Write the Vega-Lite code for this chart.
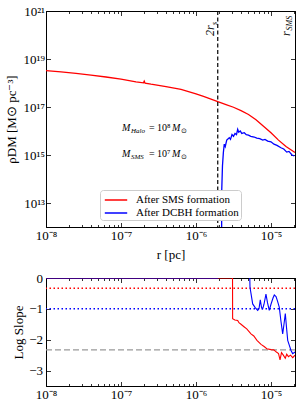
{
  "$schema": "https://vega.github.io/schema/vega-lite/v6.json",
  "padding": {"left": 4, "top": 4, "right": 5, "bottom": 5},
  "spacing": 51,
  "bounds": "flush",
  "config": {
    "font": "Liberation Serif",
    "view": {"stroke": "black", "strokeWidth": 1},
    "axis": {"domainColor": "black", "tickColor": "black", "labelColor": "black", "titleColor": "black", "labelFont": "Liberation Serif", "titleFont": "Liberation Serif", "labelFontSize": 13, "titleFontSize": 13, "titleFontWeight": "normal", "grid": false, "tickWidth": 0.8, "domainWidth": 1}
  },
  "datasets": {
    "top": [
      {"series": "After SMS formation", "r": 1e-8, "rho": 3.31e18},
      {"series": "After SMS formation", "r": 1.585e-8, "rho": 2.88e18},
      {"series": "After SMS formation", "r": 2.512e-8, "rho": 2.51e18},
      {"series": "After SMS formation", "r": 3.981e-8, "rho": 2.14e18},
      {"series": "After SMS formation", "r": 6.31e-8, "rho": 1.78e18},
      {"series": "After SMS formation", "r": 1e-7, "rho": 1.45e18},
      {"series": "After SMS formation", "r": 1.585e-7, "rho": 1.12e18},
      {"series": "After SMS formation", "r": 1.995e-7, "rho": 1.02e18},
      {"series": "After SMS formation", "r": 2.04e-7, "rho": 1.2e18},
      {"series": "After SMS formation", "r": 2.09e-7, "rho": 0.99e18},
      {"series": "After SMS formation", "r": 2.512e-7, "rho": 8.91e17},
      {"series": "After SMS formation", "r": 3.981e-7, "rho": 7.08e17},
      {"series": "After SMS formation", "r": 6.31e-7, "rho": 5.37e17},
      {"series": "After SMS formation", "r": 1e-6, "rho": 3.55e17},
      {"series": "After SMS formation", "r": 1.259e-6, "rho": 2.75e17},
      {"series": "After SMS formation", "r": 1.585e-6, "rho": 2.14e17},
      {"series": "After SMS formation", "r": 1.995e-6, "rho": 1.62e17},
      {"series": "After SMS formation", "r": 2.512e-6, "rho": 1.26e17},
      {"series": "After SMS formation", "r": 3.162e-6, "rho": 9.77e16},
      {"series": "After SMS formation", "r": 3.981e-6, "rho": 7.08e16},
      {"series": "After SMS formation", "r": 5.012e-6, "rho": 4.9e16},
      {"series": "After SMS formation", "r": 6.31e-6, "rho": 2.95e16},
      {"series": "After SMS formation", "r": 7.943e-6, "rho": 1.58e16},
      {"series": "After SMS formation", "r": 1e-5, "rho": 8.51e15},
      {"series": "After SMS formation", "r": 1.259e-5, "rho": 4.17e15},
      {"series": "After SMS formation", "r": 1.585e-5, "rho": 2.24e15},
      {"series": "After SMS formation", "r": 1.995e-5, "rho": 1.41e15},
      {"series": "After SMS formation", "r": 2.089e-5, "rho": 1.26e15},
      {"series": "After DCBH formation", "r": 2.195e-6, "rho": 1e11},
      {"series": "After DCBH formation", "r": 2.203e-6, "rho": 3.16e13},
      {"series": "After DCBH formation", "r": 2.254e-6, "rho": 3.47e14},
      {"series": "After DCBH formation", "r": 2.317e-6, "rho": 1.26e15},
      {"series": "After DCBH formation", "r": 2.382e-6, "rho": 2.82e15},
      {"series": "After DCBH formation", "r": 2.455e-6, "rho": 2.24e15},
      {"series": "After DCBH formation", "r": 2.57e-6, "rho": 4.17e15},
      {"series": "After DCBH formation", "r": 2.78e-6, "rho": 5.25e15},
      {"series": "After DCBH formation", "r": 2.884e-6, "rho": 4.47e15},
      {"series": "After DCBH formation", "r": 3.02e-6, "rho": 7.08e15},
      {"series": "After DCBH formation", "r": 3.162e-6, "rho": 6.03e15},
      {"series": "After DCBH formation", "r": 3.311e-6, "rho": 7.94e15},
      {"series": "After DCBH formation", "r": 3.467e-6, "rho": 7.08e15},
      {"series": "After DCBH formation", "r": 3.597e-6, "rho": 1.17e16},
      {"series": "After DCBH formation", "r": 3.715e-6, "rho": 8.91e15},
      {"series": "After DCBH formation", "r": 3.89e-6, "rho": 1.0e16},
      {"series": "After DCBH formation", "r": 4.074e-6, "rho": 7.94e15},
      {"series": "After DCBH formation", "r": 4.406e-6, "rho": 8.51e15},
      {"series": "After DCBH formation", "r": 4.677e-6, "rho": 7.08e15},
      {"series": "After DCBH formation", "r": 5.012e-6, "rho": 6.76e15},
      {"series": "After DCBH formation", "r": 5.37e-6, "rho": 6.03e15},
      {"series": "After DCBH formation", "r": 5.98e-6, "rho": 5.62e15},
      {"series": "After DCBH formation", "r": 6.457e-6, "rho": 5.01e15},
      {"series": "After DCBH formation", "r": 7.079e-6, "rho": 4.79e15},
      {"series": "After DCBH formation", "r": 7.762e-6, "rho": 4.17e15},
      {"series": "After DCBH formation", "r": 8.318e-6, "rho": 4.47e15},
      {"series": "After DCBH formation", "r": 9.036e-6, "rho": 3.8e15},
      {"series": "After DCBH formation", "r": 1e-5, "rho": 3.55e15},
      {"series": "After DCBH formation", "r": 1.096e-5, "rho": 2.82e15},
      {"series": "After DCBH formation", "r": 1.202e-5, "rho": 2.51e15},
      {"series": "After DCBH formation", "r": 1.358e-5, "rho": 2.0e15},
      {"series": "After DCBH formation", "r": 1.479e-5, "rho": 1.78e15},
      {"series": "After DCBH formation", "r": 1.622e-5, "rho": 1.32e15},
      {"series": "After DCBH formation", "r": 1.738e-5, "rho": 1.41e15},
      {"series": "After DCBH formation", "r": 1.905e-5, "rho": 1.0e15},
      {"series": "After DCBH formation", "r": 2.046e-5, "rho": 9.12e14}
    ],
    "slope": [
      {"series": "SMS", "r": 1e-8, "s": 0},
      {"series": "SMS", "r": 3.07e-6, "s": 0},
      {"series": "SMS", "r": 3.08e-6, "s": -1.32},
      {"series": "SMS", "r": 3.3e-6, "s": -1.36},
      {"series": "SMS", "r": 3.597e-6, "s": -1.38},
      {"series": "SMS", "r": 3.74e-6, "s": -1.45},
      {"series": "SMS", "r": 3.98e-6, "s": -1.5},
      {"series": "SMS", "r": 4.365e-6, "s": -1.58},
      {"series": "SMS", "r": 4.75e-6, "s": -1.65},
      {"series": "SMS", "r": 5.41e-6, "s": -1.81},
      {"series": "SMS", "r": 5.9e-6, "s": -1.88},
      {"series": "SMS", "r": 6.5e-6, "s": -2.02},
      {"series": "SMS", "r": 7.36e-6, "s": -2.15},
      {"series": "SMS", "r": 8.1e-6, "s": -2.22},
      {"series": "SMS", "r": 8.8e-6, "s": -2.29},
      {"series": "SMS", "r": 1.0e-5, "s": -2.32},
      {"series": "SMS", "r": 1.09e-5, "s": -2.33},
      {"series": "SMS", "r": 1.18e-5, "s": -2.4},
      {"series": "SMS", "r": 1.26e-5, "s": -2.45},
      {"series": "SMS", "r": 1.32e-5, "s": -2.65},
      {"series": "SMS", "r": 1.38e-5, "s": -2.42},
      {"series": "SMS", "r": 1.46e-5, "s": -2.5},
      {"series": "SMS", "r": 1.55e-5, "s": -2.6},
      {"series": "SMS", "r": 1.62e-5, "s": -2.47},
      {"series": "SMS", "r": 1.71e-5, "s": -2.55},
      {"series": "SMS", "r": 1.82e-5, "s": -2.5},
      {"series": "SMS", "r": 1.95e-5, "s": -2.58},
      {"series": "SMS", "r": 2.089e-5, "s": -2.5},
      {"series": "DCBH", "r": 1e-8, "s": 0},
      {"series": "DCBH", "r": 1.945e-6, "s": 0},
      {"series": "DCBH", "r": 1.96e-6, "s": 2},
      {"series": "DCBH", "r": 5.0e-6, "s": 2},
      {"series": "DCBH", "r": 5.25e-6, "s": -0.3},
      {"series": "DCBH", "r": 5.41e-6, "s": -0.5},
      {"series": "DCBH", "r": 5.7e-6, "s": -0.84},
      {"series": "DCBH", "r": 6.12e-6, "s": -0.95},
      {"series": "DCBH", "r": 6.65e-6, "s": -1.05},
      {"series": "DCBH", "r": 6.92e-6, "s": -1.0},
      {"series": "DCBH", "r": 7.2e-6, "s": -0.71},
      {"series": "DCBH", "r": 7.47e-6, "s": -0.95},
      {"series": "DCBH", "r": 7.75e-6, "s": -1.0},
      {"series": "DCBH", "r": 8.07e-6, "s": -0.85},
      {"series": "DCBH", "r": 8.57e-6, "s": -0.52},
      {"series": "DCBH", "r": 8.98e-6, "s": -0.8},
      {"series": "DCBH", "r": 9.48e-6, "s": -1.05},
      {"series": "DCBH", "r": 1e-5, "s": -0.85},
      {"series": "DCBH", "r": 1.064e-5, "s": -0.65},
      {"series": "DCBH", "r": 1.107e-5, "s": -0.55},
      {"series": "DCBH", "r": 1.167e-5, "s": -0.6},
      {"series": "DCBH", "r": 1.222e-5, "s": -0.75},
      {"series": "DCBH", "r": 1.291e-5, "s": -0.95},
      {"series": "DCBH", "r": 1.358e-5, "s": -1.4},
      {"series": "DCBH", "r": 1.432e-5, "s": -1.81},
      {"series": "DCBH", "r": 1.49e-5, "s": -1.5},
      {"series": "DCBH", "r": 1.552e-5, "s": -1.15},
      {"series": "DCBH", "r": 1.61e-5, "s": -1.6},
      {"series": "DCBH", "r": 1.671e-5, "s": -2.02},
      {"series": "DCBH", "r": 1.766e-5, "s": -2.2},
      {"series": "DCBH", "r": 1.849e-5, "s": -2.35},
      {"series": "DCBH", "r": 1.945e-5, "s": -2.45},
      {"series": "DCBH", "r": 2.028e-5, "s": -2.42},
      {"series": "DCBH", "r": 2.089e-5, "s": -2.4}
    ],
    "ann": [
      {"r": 1.03e-7, "rho": 1.33e16, "M": "M", "sub": "Halo", "eq": "= 10⁸", "M2": "M", "sun": "⊙"},
      {"r": 1.03e-7, "rho": 1.1e15, "M": "M", "sub": "SMS", "eq": "= 10⁷", "M2": "M", "sun": "⊙"}
    ],
    "vlab": [
      {"id": "rs", "r": 1.738e-6, "rho": 9.1e19, "main": "2r", "sub": "s"},
      {"id": "rsms", "r": 1.79e-5, "rho": 9.1e19, "main": "r", "sub": "SMS"}
    ]
  },
  "vconcat": [
    {
      "width": 249,
      "height": 216,
      "resolve": {"axis": {"x": "independent", "y": "independent"}},
      "layer": [
        {
          "data": {"name": "top"},
          "transform": [{"filter": "datum.series === 'After SMS formation'"}],
          "mark": {"type": "line", "strokeWidth": 1.3, "clip": true},
          "encoding": {
            "x": {"field": "r", "type": "quantitative", "scale": {"type": "log", "domain": [1e-8, 2.09e-5], "nice": false},
              "axis": {"orient": "bottom", "title": "r [pc]", "titlePadding": 4,
                "values": [1e-8, 2e-8, 3e-8, 4e-8, 5e-8, 6e-8, 7e-8, 8e-8, 9e-8, 1e-7, 2e-7, 3e-7, 4e-7, 5e-7, 6e-7, 7e-7, 8e-7, 9e-7, 1e-6, 2e-6, 3e-6, 4e-6, 5e-6, 6e-6, 7e-6, 8e-6, 9e-6, 1e-5, 2e-5],
                "labelExpr": "abs(log(datum.value)/LN10 - round(log(datum.value)/LN10)) < 0.001 ? (round(log(datum.value)/LN10) == -8 ? '10⁻⁸' : round(log(datum.value)/LN10) == -7 ? '10⁻⁷' : round(log(datum.value)/LN10) == -6 ? '10⁻⁶' : '10⁻⁵') : ''",
                "tickSize": {"condition": {"test": "abs(log(datum.value)/LN10 - round(log(datum.value)/LN10)) < 0.001", "value": -4.5}, "value": -2.5},
                "labelPadding": 7, "labelFlush": false, "labelOverlap": false}},
            "y": {"field": "rho", "type": "quantitative", "scale": {"type": "log", "domain": [1e12, 1e21], "nice": false},
              "axis": {"orient": "left", "title": "ρDM [M⊙ pc⁻³]", "titlePadding": 5, "values": [1e13, 1e15, 1e17, 1e19, 1e21],
                "labelExpr": "datum.value > 1e20 ? '10²¹' : datum.value > 1e18 ? '10¹⁹' : datum.value > 1e16 ? '10¹⁷' : datum.value > 1e14 ? '10¹⁵' : '10¹³'",
                "tickSize": -4.5, "labelPadding": 6, "labelFlush": false, "labelOverlap": false}},
            "color": {"field": "series", "type": "nominal",
              "scale": {"domain": ["After SMS formation", "After DCBH formation"], "range": ["#ff0000", "#0000ff"]},
              "legend": {"orient": "none", "legendX": 54, "legendY": 179, "title": null, "fillColor": "white", "strokeColor": "#cccccc", "cornerRadius": 3, "padding": 2, "labelFontSize": 11, "labelFont": "Liberation Serif", "labelColor": "black", "symbolType": "M-1.6,0H1.6", "symbolSize": 196, "symbolStrokeWidth": 1.5, "rowPadding": 0, "symbolOffset": 6, "labelOffset": 12}}
          }
        },
        {
          "data": {"name": "top"},
          "transform": [{"filter": "datum.series === 'After DCBH formation'"}],
          "mark": {"type": "line", "strokeWidth": 1.3, "clip": true},
          "encoding": {
            "x": {"field": "r", "type": "quantitative",
              "axis": {"orient": "top", "title": null, "labels": false,
                "values": [1e-8, 2e-8, 3e-8, 4e-8, 5e-8, 6e-8, 7e-8, 8e-8, 9e-8, 1e-7, 2e-7, 3e-7, 4e-7, 5e-7, 6e-7, 7e-7, 8e-7, 9e-7, 1e-6, 2e-6, 3e-6, 4e-6, 5e-6, 6e-6, 7e-6, 8e-6, 9e-6, 1e-5, 2e-5],
                "tickSize": {"condition": {"test": "abs(log(datum.value)/LN10 - round(log(datum.value)/LN10)) < 0.001", "value": -4.5}, "value": -2.5}}},
            "y": {"field": "rho", "type": "quantitative",
              "axis": {"orient": "right", "title": null, "labels": false, "values": [1e13, 1e15, 1e17, 1e19, 1e21], "tickSize": -4.5}},
            "color": {"field": "series", "type": "nominal"}
          }
        },
        {
          "data": {"values": [{"r": 1.95e-6}]},
          "mark": {"type": "rule", "color": "black", "strokeWidth": 1.2, "strokeDash": [4, 2.5]},
          "encoding": {"x": {"field": "r", "type": "quantitative", "axis": null}}
        },
        {
          "data": {"name": "ann"},
          "mark": {"type": "text", "fontStyle": "italic", "fontSize": 10, "align": "left", "baseline": "middle", "color": "black"},
          "encoding": {"x": {"field": "r", "type": "quantitative", "axis": null}, "y": {"field": "rho", "type": "quantitative", "axis": null}, "text": {"field": "M"}}
        },
        {
          "data": {"name": "ann"},
          "mark": {"type": "text", "fontStyle": "italic", "fontSize": 7, "align": "left", "baseline": "middle", "dx": 9, "dy": 2.5, "color": "black"},
          "encoding": {"x": {"field": "r", "type": "quantitative", "axis": null}, "y": {"field": "rho", "type": "quantitative", "axis": null}, "text": {"field": "sub"}}
        },
        {
          "data": {"name": "ann"},
          "mark": {"type": "text", "fontSize": 10, "align": "left", "baseline": "middle", "dx": 27, "color": "black"},
          "encoding": {"x": {"field": "r", "type": "quantitative", "axis": null}, "y": {"field": "rho", "type": "quantitative", "axis": null}, "text": {"field": "eq"}}
        },
        {
          "data": {"name": "ann"},
          "mark": {"type": "text", "fontStyle": "italic", "fontSize": 10, "align": "left", "baseline": "middle", "dx": 50, "color": "black"},
          "encoding": {"x": {"field": "r", "type": "quantitative", "axis": null}, "y": {"field": "rho", "type": "quantitative", "axis": null}, "text": {"field": "M2"}}
        },
        {
          "data": {"name": "ann"},
          "mark": {"type": "text", "fontSize": 7, "align": "left", "baseline": "middle", "dx": 59, "dy": 2.5, "color": "black"},
          "encoding": {"x": {"field": "r", "type": "quantitative", "axis": null}, "y": {"field": "rho", "type": "quantitative", "axis": null}, "text": {"field": "sun"}}
        },
        {
          "data": {"name": "vlab"},
          "mark": {"type": "text", "fontStyle": "italic", "fontSize": 12, "angle": 270, "align": "left", "baseline": "alphabetic", "color": "black"},
          "encoding": {"x": {"field": "r", "type": "quantitative", "axis": null}, "y": {"field": "rho", "type": "quantitative", "axis": null}, "text": {"field": "main"}}
        },
        {
          "data": {"name": "vlab"},
          "transform": [{"filter": "datum.id === 'rs'"}],
          "mark": {"type": "text", "fontStyle": "italic", "fontSize": 8, "angle": 270, "align": "left", "baseline": "alphabetic", "dx": 11, "dy": 3, "color": "black"},
          "encoding": {"x": {"field": "r", "type": "quantitative", "axis": null}, "y": {"field": "rho", "type": "quantitative", "axis": null}, "text": {"field": "sub"}}
        },
        {
          "data": {"name": "vlab"},
          "transform": [{"filter": "datum.id === 'rsms'"}],
          "mark": {"type": "text", "fontStyle": "italic", "fontSize": 8, "angle": 270, "align": "left", "baseline": "alphabetic", "dx": 5.5, "dy": 2, "color": "black"},
          "encoding": {"x": {"field": "r", "type": "quantitative", "axis": null}, "y": {"field": "rho", "type": "quantitative", "axis": null}, "text": {"field": "sub"}}
        }
      ]
    },
    {
      "width": 249,
      "height": 108,
      "resolve": {"axis": {"x": "independent", "y": "independent"}},
      "layer": [
        {
          "data": {"values": [{"s": -0.33}]},
          "mark": {"type": "rule", "color": "#ff0000", "strokeWidth": 1.5, "strokeDash": [1.5, 2.5]},
          "encoding": {"y": {"field": "s", "type": "quantitative", "axis": null, "scale": {"domain": [-3.5, 0], "nice": false}}}
        },
        {
          "data": {"values": [{"s": -1}]},
          "mark": {"type": "rule", "color": "#0000ff", "strokeWidth": 1.5, "strokeDash": [1.5, 2.5]},
          "encoding": {"y": {"field": "s", "type": "quantitative", "axis": null}}
        },
        {
          "data": {"values": [{"s": -2.33}]},
          "mark": {"type": "rule", "color": "#999999", "strokeWidth": 1.3, "strokeDash": [6, 3]},
          "encoding": {"y": {"field": "s", "type": "quantitative", "axis": null}}
        },
        {
          "data": {"name": "slope"},
          "transform": [{"filter": "datum.series === 'SMS'"}],
          "mark": {"type": "line", "color": "#ff0000", "strokeWidth": 1.1, "clip": true},
          "encoding": {
            "x": {"field": "r", "type": "quantitative", "scale": {"type": "log", "domain": [1e-8, 2.09e-5], "nice": false},
              "axis": {"orient": "bottom", "title": null,
                "values": [1e-8, 2e-8, 3e-8, 4e-8, 5e-8, 6e-8, 7e-8, 8e-8, 9e-8, 1e-7, 2e-7, 3e-7, 4e-7, 5e-7, 6e-7, 7e-7, 8e-7, 9e-7, 1e-6, 2e-6, 3e-6, 4e-6, 5e-6, 6e-6, 7e-6, 8e-6, 9e-6, 1e-5, 2e-5],
                "labelExpr": "abs(log(datum.value)/LN10 - round(log(datum.value)/LN10)) < 0.001 ? (round(log(datum.value)/LN10) == -8 ? '10⁻⁸' : round(log(datum.value)/LN10) == -7 ? '10⁻⁷' : round(log(datum.value)/LN10) == -6 ? '10⁻⁶' : '10⁻⁵') : ''",
                "tickSize": {"condition": {"test": "abs(log(datum.value)/LN10 - round(log(datum.value)/LN10)) < 0.001", "value": -4.5}, "value": -2.5},
                "labelPadding": 7, "labelFlush": false, "labelOverlap": false}},
            "y": {"field": "s", "type": "quantitative",
              "axis": {"orient": "left", "title": "Log Slope", "titlePadding": 3, "values": [0, -1, -2, -3], "format": "d", "tickSize": -4.5, "labelPadding": 8}}
          }
        },
        {
          "data": {"name": "slope"},
          "transform": [{"filter": "datum.series === 'DCBH'"}],
          "mark": {"type": "line", "color": "#0000ff", "strokeWidth": 1.1, "clip": true},
          "encoding": {
            "x": {"field": "r", "type": "quantitative",
              "axis": {"orient": "top", "title": null, "labels": false,
                "values": [1e-8, 2e-8, 3e-8, 4e-8, 5e-8, 6e-8, 7e-8, 8e-8, 9e-8, 1e-7, 2e-7, 3e-7, 4e-7, 5e-7, 6e-7, 7e-7, 8e-7, 9e-7, 1e-6, 2e-6, 3e-6, 4e-6, 5e-6, 6e-6, 7e-6, 8e-6, 9e-6, 1e-5, 2e-5],
                "tickSize": {"condition": {"test": "abs(log(datum.value)/LN10 - round(log(datum.value)/LN10)) < 0.001", "value": -4.5}, "value": -2.5}}},
            "y": {"field": "s", "type": "quantitative",
              "axis": {"orient": "right", "title": null, "labels": false, "values": [0, -1, -2, -3], "tickSize": -4.5}}
          }
        }
      ]
    }
  ]
}
